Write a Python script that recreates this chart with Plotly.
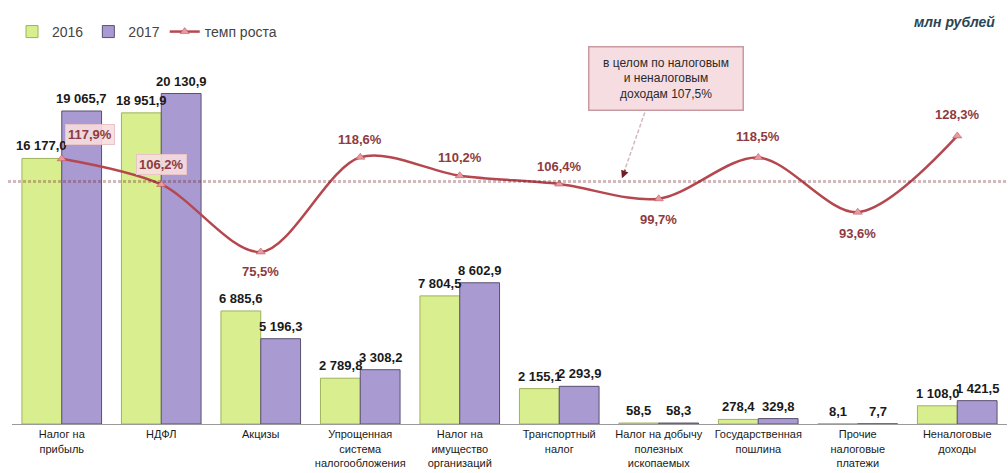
import plotly.graph_objects as go

categories = [
    "Налог на<br>прибыль",
    "НДФЛ",
    "Акцизы",
    "Упрощенная<br>система<br>налогообложения",
    "Налог на<br>имущество<br>организаций",
    "Транспортный<br>налог",
    "Налог на добычу<br>полезных<br>ископаемых",
    "Государственная<br>пошлина",
    "Прочие<br>налоговые<br>платежи",
    "Неналоговые<br>доходы",
]
values_2016 = [16177.0, 18951.9, 6885.6, 2789.8, 7804.5, 2155.1, 58.5, 278.4, 8.1, 1108.0]
values_2017 = [19065.7, 20130.9, 5196.3, 3308.2, 8602.9, 2293.9, 58.3, 329.8, 7.7, 1421.5]
growth = [117.9, 106.2, 75.5, 118.6, 110.2, 106.4, 99.7, 118.5, 93.6, 128.3]
total_growth = 107.5


def fmt(v, pct=False):
    s = f"{v:,.1f}".replace(",", " ").replace(".", ",")
    return s + "%" if pct else s


FONT = "Liberation Sans, Arial"
LINE_RED = "#b5474f"
LABEL_RED = "#8e3b40"
DARK_RED = "#741c25"

fig = go.Figure()
fig.add_trace(
    go.Bar(
        x=categories,
        y=values_2016,
        name="2016",
        marker=dict(color="#d9ee8e", line=dict(color="#9fb25a", width=1)),
    )
)
fig.add_trace(
    go.Bar(
        x=categories,
        y=values_2017,
        name="2017",
        marker=dict(color="#a99bd1", line=dict(color="#5a5070", width=1)),
    )
)
fig.add_trace(
    go.Scatter(
        x=categories,
        y=growth,
        name="темп роста",
        mode="lines+markers",
        yaxis="y2",
        line=dict(color=LINE_RED, width=2.5, shape="spline", smoothing=0.9),
        marker=dict(symbol="triangle-up", size=8, color="#e99aa0", line=dict(color=LINE_RED, width=0.5)),
        cliponaxis=False,
    )
)

# bar value labels as annotations so they stay above neighbouring bars
for series, shift in ((values_2016, -20), (values_2017, 20)):
    for cat, v in zip(categories, series):
        fig.add_annotation(
            x=cat, y=v, text=f"<b>{fmt(v)}</b>", showarrow=False,
            xshift=shift, yshift=3, yanchor="bottom",
            font=dict(family=FONT, size=13, color="#1a1a1a"),
        )

# percent labels: (xshift, yshift, boxed)
label_pos = [(28, 24, True), (0, 20, True), (0, -20, False), (0, 18, False), (0, 18, False),
             (0, 18, False), (0, -21, False), (0, 21, False), (0, -21, False), (0, 21, False)]
for cat, g, (dx, dy, boxed) in zip(categories, growth, label_pos):
    fig.add_annotation(
        x=cat, y=g, yref="y2", text=f"<b>{fmt(g, pct=True)}</b>", showarrow=False,
        xshift=dx, yshift=dy,
        font=dict(family=FONT, size=13, color=LABEL_RED),
        bgcolor="rgba(246,222,224,0.9)" if boxed else None,
        bordercolor="#e8c4c8" if boxed else None,
        borderwidth=1 if boxed else 0,
        borderpad=2,
    )

# overall growth reference line
fig.add_shape(
    type="line", xref="paper", x0=-0.004, x1=1.0, yref="y2", y0=total_growth, y1=total_growth,
    line=dict(color=DARK_RED, width=3, dash="3px,2px"),
)
# callout box with dashed pointer
fig.add_annotation(
    xref="paper", yref="paper", x=0.657, y=0.876, xanchor="center", yanchor="middle",
    text="в целом по налоговым<br>и неналоговым<br>доходам 107,5%",
    showarrow=False, width=137, height=46,
    font=dict(family=FONT, size=12, color="#2a2a2a"),
    bgcolor="#f6dde1", bordercolor="#c99aa2", borderwidth=1.5, borderpad=8,
)
fig.add_shape(
    type="line", xref="x", yref="y2", x0=5.86, y0=139.0, x1=5.64, y1=110.5,
    line=dict(color=DARK_RED, width=1.5, dash="4px,2px"),
)
fig.add_annotation(
    x=5.63, y=109.0, yref="y2", text="", showarrow=True,
    arrowhead=2, arrowsize=1.2, arrowwidth=1.3, arrowcolor=DARK_RED, ax=4, ay=-10,
)
fig.add_annotation(
    xref="paper", yref="paper", x=0.99, y=1.02, xanchor="right", yanchor="middle",
    text="<b><i>млн рублей</i></b>", showarrow=False,
    font=dict(family=FONT, size=14, color="#2b4452"),
)

fig.update_layout(
    width=1008,
    height=473,
    template="simple_white",
    plot_bgcolor="white",
    paper_bgcolor="white",
    margin=dict(l=12, r=1, t=30, b=49, autoexpand=False),
    barmode="group",
    bargap=0.2,
    bargroupgap=0.0,
    font=dict(family=FONT),
    showlegend=True,
    legend=dict(
        orientation="h", x=0.0, y=0.995, xanchor="left", yanchor="middle",
        font=dict(family=FONT, size=14, color="#444"),
        itemwidth=30, tracegroupgap=0, bgcolor="rgba(0,0,0,0)",
    ),
    xaxis=dict(
        range=[-0.5, 9.5], showline=True, linecolor="#9a9a9a", linewidth=1, ticks="", automargin=False,
        tickfont=dict(family=FONT, size=11, color="#1a1a1a"),
    ),
    yaxis=dict(range=[0, 24000], visible=False, showgrid=False),
    yaxis2=dict(range=[-2.8, 176.5], overlaying="y", side="right", visible=False, showgrid=False),
)

fig.write_html(
    "out.html",
    config={"displayModeBar": False},
    post_script="document.body.style.margin='0';",
)
